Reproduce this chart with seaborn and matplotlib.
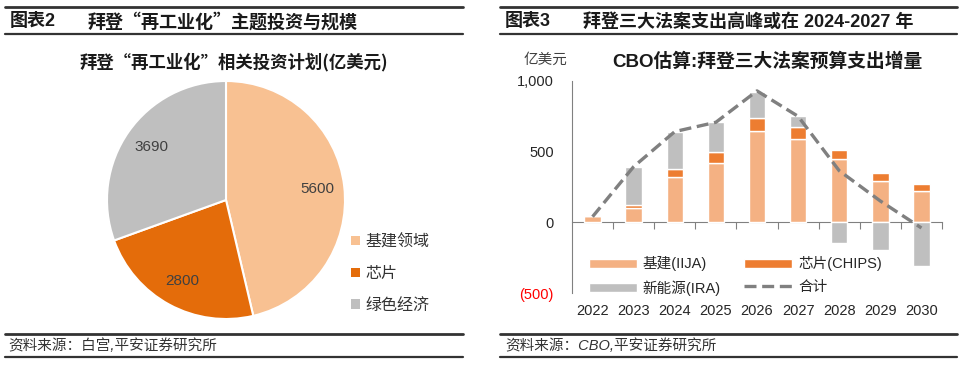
import numpy as np
import pandas as pd
import seaborn as sns
import matplotlib.pyplot as plt
from matplotlib.lines import Line2D
from matplotlib.patches import Patch

# pie data (亿美元)
pie_labels = ['基建领域', '芯片', '绿色经济']
pie_values = [5600, 2800, 3690]
pie_colors = ['#F8C192', '#E46C0A', '#BFBFBF']

# CBO estimate data (亿美元)
years = ['2022', '2023', '2024', '2025', '2026', '2027', '2028', '2029', '2030']
iija = [42, 104, 323, 422, 646, 590, 446, 292, 224]
chips = [2, 21, 52, 76, 90, 82, 68, 55, 45]
ira = [0, 269, 262, 210, 189, 78, -149, -196, -307]
total = [40, 394, 642, 708, 930, 750, 365, 151, -40]

sns.set_theme(style='white')
plt.rcParams['font.family'] = ['Liberation Sans', 'Noto Sans CJK SC', 'DejaVu Sans']
plt.rcParams['axes.unicode_minus'] = False
CJK_FIRST = ['Noto Sans CJK SC', 'Liberation Sans', 'DejaVu Sans']

W, H = 960, 367
fig = plt.figure(figsize=(W / 100, H / 100), dpi=100)

def px(x, y):
    return x / W, 1 - y / H

def hline(x0, x1, y, lw=1.6, color='#333333'):
    a, b = px(x0, y)
    c, _ = px(x1, y)
    fig.add_artist(Line2D([a, c], [b, b], transform=fig.transFigure, lw=lw, color=color))

# header / footer frames
for x0, x1 in [(5, 463), (500, 957)]:
    hline(x0, x1, 7, lw=2)
    hline(x0, x1, 34, lw=1.6)
    hline(x0, x1, 334, lw=2)
    hline(x0, x1, 357, lw=1.6)

fig.text(*px(10, 22), '图表2', fontsize=13, fontweight='bold', va='center', color='#1a1a1a')
fig.text(*px(88, 22), '拜登“再工业化”主题投资与规模', fontsize=13, fontweight='bold', va='center',
         color='#1a1a1a', family=CJK_FIRST)
fig.text(*px(505, 22), '图表3', fontsize=13, fontweight='bold', va='center', color='#1a1a1a')
fig.text(*px(583, 22), '拜登三大法案支出高峰或在 2024-2027 年', fontsize=13, fontweight='bold', va='center', color='#1a1a1a')
fig.text(*px(8, 346), '资料来源：白宫,平安证券研究所', fontsize=10.5, style='italic', va='center', color='#333333')
fig.text(*px(505, 346), '资料来源：CBO,平安证券研究所', fontsize=10.5, style='italic', va='center', color='#333333')

# ---- left: pie ----
fig.text(*px(234, 62), '拜登“再工业化”相关投资计划(亿美元)', fontsize=12.5, fontweight='bold',
         ha='center', va='center', color='#1a1a1a', family=CJK_FIRST)
cx, cy, r = 226, 200, 119
s = r * 1.25
ax1 = fig.add_axes([(cx - s) / W, 1 - (cy + s) / H, 2 * s / W, 2 * s / H])
pie_total = sum(pie_values)
wedges, texts, autotexts = ax1.pie(
    pie_values, colors=pie_colors, startangle=90, counterclock=False,
    autopct=lambda p: f'{p * pie_total / 100:.0f}', pctdistance=0.77,
    wedgeprops=dict(edgecolor='white', linewidth=1.5),
    textprops=dict(fontsize=11, color='#404040'))
ax1.set_aspect('equal')

handles = [Patch(facecolor=c, edgecolor='none') for c in pie_colors]
fig.legend(handles, pie_labels, loc='upper left', bbox_to_anchor=px(351, 234),
           frameon=False, fontsize=11.5, handlelength=0.55, handleheight=0.55,
           handletextpad=0.35, labelspacing=1.05, borderpad=0, borderaxespad=0,
           labelcolor='#333333')

# ---- right: stacked bars ----
fig.text(*px(767, 62), 'CBO估算:拜登三大法案预算支出增量', fontsize=13.5, fontweight='bold',
         ha='center', va='center', color='#1a1a1a')
fig.text(*px(545, 60), '亿美元', fontsize=10.5, ha='center', va='center', color='#404040')

ax = fig.add_axes([572 / W, 1 - 293 / H, 370 / W, 212 / H])
df = pd.DataFrame({'year': years, 'iija': iija, 'chips': chips, 'ira': ira, 'total': total})
df['pos'] = np.arange(len(df))
ira_bottom = np.where(df['ira'] >= 0, df['iija'] + df['chips'], 0)

sns.barplot(data=df, x='year', y='iija', color='#F4B183', saturation=1, width=0.4,
            errorbar=None, label='基建(IIJA)', ax=ax)
sns.barplot(data=df, x='year', y='chips', color='#ED7D31', saturation=1, width=0.4,
            errorbar=None, bottom=df['iija'].values, label='芯片(CHIPS)', ax=ax)
sns.barplot(data=df, x='year', y='ira', color='#BFBFBF', saturation=1, width=0.4,
            errorbar=None, bottom=ira_bottom, label='新能源(IRA)', ax=ax)
sns.lineplot(data=df, x='pos', y='total', color='#808080', lw=2.4,
             linestyle=(0, (3.6, 1.7)), label='合计', ax=ax, zorder=5)

ymin, ymax = -500, 1000
ax.set_ylim(ymin, ymax)
ax.set_xlim(-0.5, len(years) - 0.5)
ax.set_xticks(range(len(years)))
ax.set_xticklabels(years)
ax.set_yticks([-500, 0, 500, 1000])
ax.yaxis.set_major_formatter(lambda v, p: f'({abs(v):,.0f})' if v < 0 else f'{v:,.0f}')
ax.set_xlabel('')
ax.set_ylabel('')
ax.tick_params(axis='x', length=0, pad=8, labelsize=10.5, labelcolor='#262626')
ax.tick_params(axis='y', direction='in', length=4, width=0.8, color='#808080', pad=13,
               labelsize=10.5, labelcolor='#262626')
ax.set_facecolor('none')
for side in ['top', 'right', 'bottom']:
    ax.spines[side].set_visible(False)
ax.spines['left'].set_color('#808080')
ax.spines['left'].set_linewidth(0.8)
fig.canvas.draw()
for lab in ax.get_yticklabels():
    if lab.get_text().startswith('('):
        lab.set_color('#FF0000')

zero = ax.secondary_xaxis((0 - ymin) / (ymax - ymin))
zero.set_xticks(np.arange(0.5, len(years), 1))
zero.set_xticklabels([])
zero.tick_params(axis='x', direction='out', length=5, width=0.8, color='#808080')
zero.spines['bottom'].set_color('#808080')
zero.spines['bottom'].set_linewidth(0.8)

h, l = ax.get_legend_handles_labels()
order = [l.index(n) for n in ['基建(IIJA)', '新能源(IRA)', '芯片(CHIPS)', '合计']]
ax.legend([h[i] for i in order], [l[i] for i in order], ncol=2, loc='lower left',
          bbox_to_anchor=(0.01, -0.075), frameon=False, fontsize=10.5, handlelength=3.3,
          handleheight=0.55, handletextpad=0.4, columnspacing=1.6, labelspacing=0.6,
          labelcolor='#262626')

fig.savefig('out.png', dpi=100)
